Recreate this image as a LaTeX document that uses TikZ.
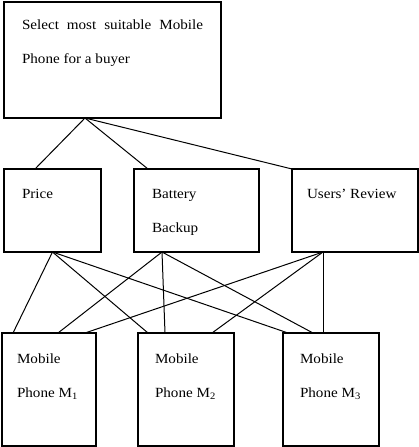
\documentclass[tikz,border=0pt]{standalone}
\usepackage{fontspec}
\setmainfont{Liberation Serif}[FakeStretch=1.08]
\usepackage{tikz}

\tikzset{
  box/.style={draw, rectangle, line width=1.5pt, anchor=north west, outer sep=0pt,
    inner ysep=0pt, align=justify, font=\fontsize{14}{34}\selectfont},
  link/.style={line width=1pt}
}

\begin{document}
\begin{tikzpicture}[x=1pt, y=-1pt]
\useasboundingbox (0,0) rectangle (419,447);
% goal
\node[box, inner xsep=18pt, text width=181pt, text height=27pt, text depth=89pt] (goal) at (4,2) {Select most suitable Mobile\linebreak Phone for a buyer};
% criteria
\node[box, inner xsep=18pt, text width=61pt, text height=29pt, text depth=54pt] (price) at (4,169) {Price};
\node[box, inner xsep=18pt, text width=89pt, text height=29pt, text depth=54pt] (battery) at (134,169) {Battery\\Backup};
\node[box, inner xsep=15pt, text width=96pt, text height=29pt, text depth=54pt] (review) at (292,169) {Users' Review};
% alternatives
\node[box, inner xsep=15pt, text width=64pt, text height=30pt, text depth=83pt] (m1) at (2,333) {Mobile\\Phone~M\textsubscript{1}};
\node[box, inner xsep=17pt, text width=62pt, text height=30pt, text depth=83pt] (m2) at (138,333) {Mobile\\Phone~M\textsubscript{2}};
\node[box, inner xsep=17pt, text width=62pt, text height=30pt, text depth=83pt] (m3) at (283,333) {Mobile\\Phone~M\textsubscript{3}};

\draw[link] ([xshift=-27.5pt]goal.south) -- ([xshift=-17.5pt]price.north);
\draw[link] ([xshift=-27.5pt]goal.south) -- ([xshift=-48.5pt]battery.north);
\draw[link] ([xshift=-27.5pt]goal.south) -- (review.north west);

\draw[link] (price.south) -- ([xshift=-36pt]m1.north);
\draw[link] (price.south) -- ([xshift=-38pt]m2.north);
\draw[link] (price.south) -- ([xshift=-43pt]m3.north);
\draw[link] ([xshift=-34.5pt]battery.south) -- ([xshift=9pt]m1.north);
\draw[link] ([xshift=-34.5pt]battery.south) -- ([xshift=-21pt]m2.north);
\draw[link] ([xshift=-34.5pt]battery.south) -- ([xshift=-18pt]m3.north);
\draw[link] ([xshift=-32pt]review.south) -- ([xshift=36pt]m1.north);
\draw[link] ([xshift=-32pt]review.south) -- ([xshift=26pt]m2.north);
\draw[link] ([xshift=-32pt]review.south) -- ([xshift=-8pt]m3.north);
\end{tikzpicture}
\end{document}
